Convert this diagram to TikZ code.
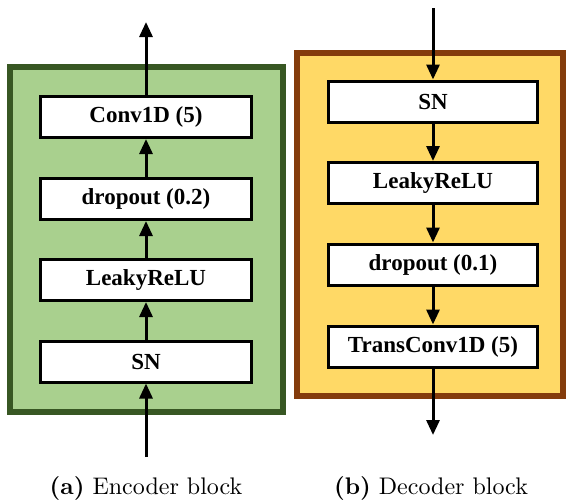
\documentclass[tikz,border=0pt]{standalone}
\usepackage{fontspec}
\newfontfamily\boxfont{Liberation Serif}
\newfontfamily\capfont{lmroman10-regular.otf}[BoldFont=lmroman10-bold.otf]
\usetikzlibrary{arrows.meta}
\definecolor{encfill}{RGB}{169,208,142}
\definecolor{encdraw}{RGB}{56,87,35}
\definecolor{decfill}{RGB}{255,217,102}
\definecolor{decdraw}{RGB}{132,60,12}
\tikzset{
  layerbox/.style={draw=black, fill=white, line width=3pt, inner sep=0pt,
    minimum height=41pt, font=\boxfont\bfseries\fontsize{23}{27}\selectfont},
  encbox/.style={layerbox, minimum width=211pt},
  decbox/.style={layerbox, minimum width=209pt},
  flow/.style={line width=3pt, -{Triangle[width=13pt,length=15pt]}},
  caption/.style={font=\capfont\fontsize{24}{28}\selectfont, anchor=base}
}
\begin{document}
\begin{tikzpicture}[x=1pt,y=-1pt]
\useasboundingbox (0,0) rectangle (567,501);
% encoder
\draw[fill=encfill, draw=encdraw, line width=6pt] (10,67) rectangle (283,412);
\node[encbox] (econv) at (146,117) {Conv1D (5)};
\node[encbox] (edrop) at (146,199) {dropout (0.2)};
\node[encbox] (eleaky) at (146,280) {LeakyReLU};
\node[encbox] (esn) at (146,361.5) {SN};
\coordinate (ein) at (146,457);
\coordinate (eout) at (146,22);
\draw[flow] (ein) -- (esn);
\draw[flow] (esn) -- (eleaky);
\draw[flow] (eleaky) -- (edrop);
\draw[flow] (edrop) -- (econv);
\draw[flow] (econv) -- (eout);
% decoder
\draw[fill=decfill, draw=decdraw, line width=6pt] (297,53) rectangle (563,396);
\node[decbox] (dsn) at (433,101.5) {SN};
\node[decbox] (dleaky) at (433,183) {LeakyReLU};
\node[decbox] (ddrop) at (433,264.5) {dropout (0.1)};
\node[decbox] (dconv) at (433,346.5) {TransConv1D (5)};
\coordinate (din) at (433,8);
\coordinate (dout) at (433,435);
\draw[flow] (din) -- (dsn);
\draw[flow] (dsn) -- (dleaky);
\draw[flow] (dleaky) -- (ddrop);
\draw[flow] (ddrop) -- (dconv);
\draw[flow] (dconv) -- (dout);
% captions
\node[caption] (capa) at (146,494) {\textbf{(a)} Encoder block};
\node[caption] (capb) at (431,494) {\textbf{(b)} Decoder block};
\end{tikzpicture}
\end{document}
